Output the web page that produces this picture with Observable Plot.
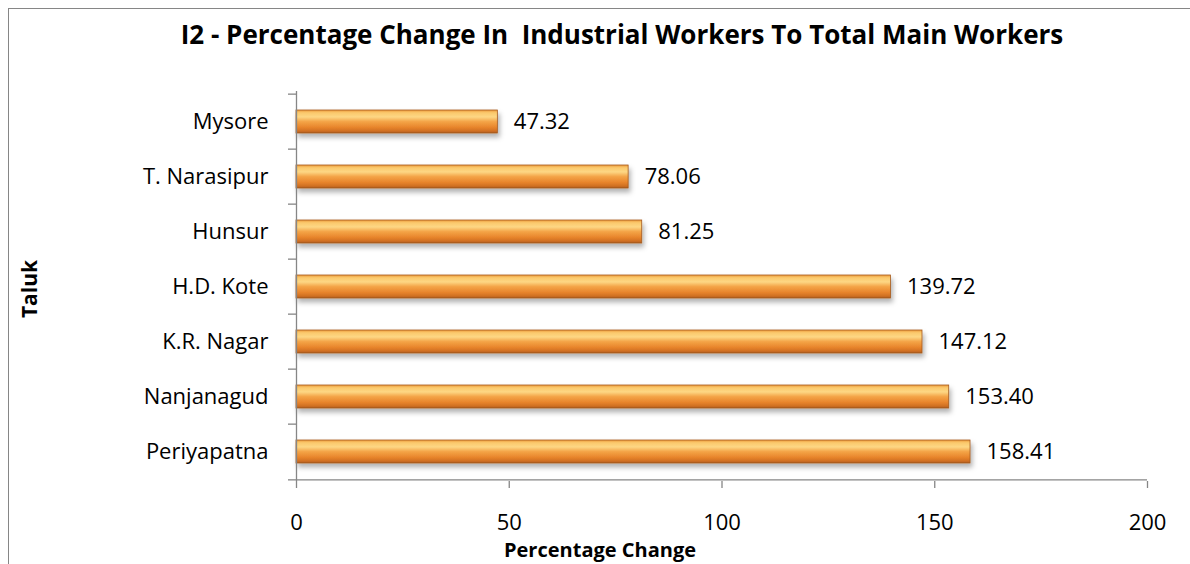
<!DOCTYPE html>
<html>
<head>
<meta charset="utf-8">
<script src="https://cdn.jsdelivr.net/npm/d3@7"></script>
<script src="https://cdn.jsdelivr.net/npm/@observablehq/plot@0.6"></script>
<style>
  html, body { margin: 0; padding: 0; background: #fff; }
  #wrap { position: relative; width: 1190px; height: 564px; overflow: hidden; font-family: "Open Sans", Lato, sans-serif; color: #000; }
  #border { position: absolute; left: 8px; top: 8px; width: 1300px; height: 700px; border: 1px solid #868686; box-sizing: border-box; }
  #chart { position: absolute; left: 0; top: 0; }
  .lbl { position: absolute; font-weight: bold; line-height: 1; white-space: pre; }
  #title { left: 622px; top: 21px; font-size: 26px; transform: translateX(-50%); }
  #xlabel { left: 600px; top: 540px; font-size: 20px; transform: translateX(-50%); }
  #ylabel { left: 29px; top: 289px; font-size: 21px; transform: translate(-50%, -50%) rotate(-90deg); }
</style>
</head>
<body>
<div id="wrap">
  <div id="border"></div>
  <div id="chart"></div>
  <div id="title" class="lbl"></div>
  <div id="xlabel" class="lbl"></div>
  <div id="ylabel" class="lbl"></div>
</div>
<script>
const taluks = ["Mysore", "T. Narasipur", "Hunsur", "H.D. Kote", "K.R. Nagar", "Nanjanagud", "Periyapatna"];
const values = [47.32, 78.06, 81.25, 139.72, 147.12, 153.40, 158.41];
const xTicks = [0, 50, 100, 150, 200];
const titleText = "I2 - Percentage Change In  Industrial Workers To Total Main Workers";
const xLabel = "Percentage Change";
const yLabel = "Taluk";

const data = taluks.map((t, i) => ({taluk: t, value: values[i]}));

const W = 1190, H = 564;
const mL = 296, mR = 43, mT = 91, mB = 83;
const step = (H - mT - mB) / taluks.length;
const pad = 0.59;
const axisColor = "#868686";
const font = "'Open Sans', Lato, sans-serif";

const plot = Plot.plot({
  width: W,
  height: H,
  marginLeft: mL,
  marginRight: mR,
  marginTop: mT,
  marginBottom: mB,
  style: {fontFamily: font, fontSize: "22px", color: "#000", background: "transparent", overflow: "visible"},
  x: {domain: [0, 200], ticks: xTicks},
  y: {domain: taluks, paddingInner: pad, paddingOuter: pad / 2},
  marks: [
    Plot.barX(data, {x: "value", y: "taluk", fill: "url(#barGrad)", stroke: "#a55a1e", strokeWidth: 0.8}),
    Plot.ruleX([0], {stroke: axisColor, strokeWidth: 1.3}),
    Plot.ruleY([taluks[taluks.length - 1]], {x1: 0, x2: 200, dy: step / 2, stroke: axisColor, strokeWidth: 1.3}),
    Plot.axisY({tickSize: 8, stroke: axisColor, text: null, dy: -step / 2, strokeWidth: 1.3, label: null}),
    Plot.axisY({ticks: [taluks[taluks.length - 1]], tickSize: 8, stroke: axisColor, text: null, dy: step / 2, strokeWidth: 1.3, label: null}),
    Plot.axisY({tickSize: 0, tickPadding: 28, fontSize: 22, fill: "#000", label: null}),
    Plot.axisX({ticks: xTicks, tickSize: 7, tickPadding: 26, stroke: axisColor, strokeWidth: 1.3, fill: "#000", fontSize: 22, label: null}),
    Plot.text(data, {x: "value", y: "taluk", text: d => d.value.toFixed(2), dx: 16, textAnchor: "start", fill: "#000", fontSize: 22})
  ]
});

const ns = "http://www.w3.org/2000/svg";
const defs = document.createElementNS(ns, "defs");
defs.innerHTML = `
  <linearGradient id="barGrad" x1="0" y1="0" x2="0" y2="1">
    <stop offset="0" stop-color="#eb9a3e"/>
    <stop offset="0.12" stop-color="#fbc96c"/>
    <stop offset="0.3" stop-color="#fdd784"/>
    <stop offset="0.5" stop-color="#f4a548"/>
    <stop offset="0.75" stop-color="#e8852c"/>
    <stop offset="0.92" stop-color="#cf6f22"/>
    <stop offset="1" stop-color="#a85a1e"/>
  </linearGradient>
  <filter id="barShadow" x="-5%" y="-30%" width="110%" height="190%">
    <feDropShadow dx="2" dy="4" stdDeviation="2.5" flood-color="#000" flood-opacity="0.3"/>
  </filter>`;
plot.insertBefore(defs, plot.firstChild);
const barG = plot.querySelector('g[aria-label="bar"]');
if (barG) barG.setAttribute("filter", "url(#barShadow)");

document.getElementById("chart").appendChild(plot);
document.getElementById("title").textContent = titleText;
document.getElementById("xlabel").textContent = xLabel;
document.getElementById("ylabel").textContent = yLabel;
</script>
</body>
</html>
